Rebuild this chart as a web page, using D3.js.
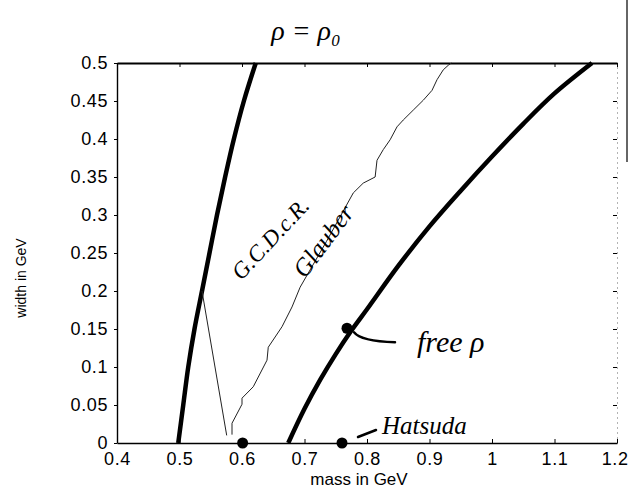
<!DOCTYPE html>
<meta charset="utf-8">
<style>
  body { margin: 0; background: #fff; }
  .axis text { font: 18px "Liberation Sans", Arial, sans-serif; letter-spacing: 0.6px; fill: #000; }
  .axis path, .axis line { stroke: #000; }
  .hand { font-family: "Liberation Serif", "DejaVu Serif", serif; font-style: italic; fill: #000; }
</style>
<svg width="629" height="492"></svg>
<script src="https://cdn.jsdelivr.net/npm/d3@7/dist/d3.min.js"></script>
<script>

  // ticks
  var xTicks = [0.4, 0.5, 0.6, 0.7, 0.8, 0.9, 1.0, 1.1, 1.2];
  var xTickLabels = ["0.4", "0.5", "0.6", "0.7", "0.8", "0.9", "1", "1.1", "1.2"];
  var yTicks = [0, 0.05, 0.1, 0.15, 0.2, 0.25, 0.3, 0.35, 0.4, 0.45, 0.5];
  var yTickLabels = ["0", "0.05", "0.1", "0.15", "0.2", "0.25", "0.3", "0.35", "0.4", "0.45", "0.5"];

  // left thick curve
  var leftMass  = [0.498, 0.506, 0.514, 0.524, 0.536, 0.548, 0.56, 0.573, 0.587, 0.603, 0.622];
  var leftWidth = [0, 0.05, 0.1, 0.15, 0.2, 0.25, 0.3, 0.35, 0.4, 0.45, 0.5];

  // thin straight drop
  var dropMass  = [0.536, 0.5755];
  var dropWidth = [0.2, 0.01];

  // thin wiggly (Glauber) curve
  var glauberMass  = [0.584, 0.584, 0.6, 0.6, 0.618, 0.64, 0.642, 0.664, 0.68, 0.693, 0.735, 0.778,
                      0.794, 0.813, 0.816, 0.826, 0.837, 0.848, 0.858, 0.874, 0.89, 0.904, 0.912, 0.922, 0.93, 0.935];
  var glauberWidth = [0.011, 0.026, 0.051, 0.059, 0.074, 0.109, 0.126, 0.153, 0.179, 0.205, 0.265, 0.329,
                      0.342, 0.35, 0.372, 0.386, 0.399, 0.416, 0.425, 0.438, 0.451, 0.464, 0.478, 0.491, 0.497, 0.5];

  // free rho thick curve
  var freeMass  = [0.674, 0.7, 0.725, 0.75, 0.775, 0.8, 0.85, 0.9, 0.95, 1.0, 1.05, 1.1, 1.16];
  var freeWidth = [0, 0.045, 0.083, 0.117, 0.148, 0.176, 0.233, 0.285, 0.332, 0.377, 0.42, 0.46, 0.5];

  // marked points
  var dotMass  = [0.601, 0.76, 0.768];
  var dotWidth = [0, 0, 0.151];

  var svg = d3.select("svg");

  var x = d3.scaleLinear().domain([0.4, 1.2]).range([117, 617]);
  var y = d3.scaleLinear().domain([0, 0.5]).range([443, 63]);

  function pts(ms, ws) {
    return ms.map(function(m, i) { return [m, ws[i]]; });
  }

  var line = d3.line()
      .x(function(d) { return x(d[0]); })
      .y(function(d) { return y(d[1]); });

  var smooth = d3.line()
      .curve(d3.curveCatmullRom)
      .x(function(d) { return x(d[0]); })
      .y(function(d) { return y(d[1]); });

  // axes
  svg.append("g")
      .attr("class", "axis")
      .attr("transform", "translate(0," + y(0) + ")")
      .call(d3.axisBottom(x).tickValues(xTicks)
          .tickFormat(function(d, i) { return xTickLabels[i]; })
          .tickSizeInner(-4).tickSizeOuter(0).tickPadding(9))
      .call(function(g) {
        g.select(".domain").attr("stroke-width", 1.6);
        // last label sits against the page edge
        g.selectAll(".tick text").filter(function(d) { return d === 1.2; })
            .attr("text-anchor", "end").attr("dx", 11);
      });

  svg.append("g")
      .attr("class", "axis")
      .attr("transform", "translate(" + x(0.4) + ",0)")
      .call(d3.axisLeft(y).tickValues(yTicks)
          .tickFormat(function(d, i) { return yTickLabels[i]; })
          .tickSizeInner(3).tickSizeOuter(0).tickPadding(6))
      .call(function(g) { g.select(".domain").attr("stroke-width", 1.4); });

  // top frame
  svg.append("g")
      .attr("class", "axis")
      .attr("transform", "translate(0," + y(0.5) + ")")
      .call(d3.axisTop(x).tickValues(xTicks).tickFormat("")
          .tickSizeInner(-4).tickSizeOuter(0))
      .call(function(g) { g.select(".domain").attr("stroke-width", 2); });

  // right side: only faint tick marks
  svg.append("g")
      .attr("class", "axis")
      .attr("transform", "translate(" + x(1.2) + ",0)")
      .call(d3.axisRight(y).tickValues(yTicks).tickFormat("")
          .tickSizeInner(-4).tickSizeOuter(0))
      .call(function(g) {
        g.select(".domain").attr("stroke", "#999").attr("stroke-width", 0.6).attr("stroke-dasharray", "1,4");
      });

  // curves
  svg.append("path")
      .datum(pts(leftMass, leftWidth))
      .attr("d", smooth)
      .attr("fill", "none").attr("stroke", "#000")
      .attr("stroke-width", 4.5).attr("stroke-linejoin", "round");

  svg.append("path")
      .datum(pts(dropMass, dropWidth))
      .attr("d", line)
      .attr("fill", "none").attr("stroke", "#222").attr("stroke-width", 1);

  svg.append("path")
      .datum(pts(glauberMass, glauberWidth))
      .attr("d", line)
      .attr("fill", "none").attr("stroke", "#222").attr("stroke-width", 1);

  svg.append("path")
      .datum(pts(freeMass, freeWidth))
      .attr("d", smooth)
      .attr("fill", "none").attr("stroke", "#000")
      .attr("stroke-width", 4.5).attr("stroke-linejoin", "round");

  svg.selectAll(".dot")
      .data(pts(dotMass, dotWidth))
      .enter().append("circle")
      .attr("class", "dot")
      .attr("cx", function(d) { return x(d[0]); })
      .attr("cy", function(d) { return y(d[1]); })
      .attr("r", 5.5)
      .attr("fill", "#000");

  // axis titles
  svg.append("text")
      .attr("x", 359).attr("y", 485)
      .attr("text-anchor", "middle")
      .style("font", "17px 'Liberation Sans', Arial, sans-serif")
      .text("mass in GeV");

  svg.append("text")
      .attr("transform", "translate(26,278) rotate(-90)")
      .attr("text-anchor", "middle")
      .style("font", "14px 'Liberation Sans', Arial, sans-serif")
      .text("width in GeV");

  // handwritten notes
  svg.append("text")
      .attr("class", "hand")
      .attr("x", 306).attr("y", 40)
      .attr("text-anchor", "middle")
      .style("font-size", "28px")
      .text("ρ = ρ₀");

  svg.append("text")
      .attr("class", "hand")
      .attr("transform", "translate(276,244) rotate(-47)")
      .attr("text-anchor", "middle")
      .style("font-size", "23px")
      .text("G.C.D.c.R.");

  svg.append("text")
      .attr("class", "hand")
      .attr("transform", "translate(330,246) rotate(-53)")
      .attr("text-anchor", "middle")
      .style("font-size", "25px")
      .text("Glauber");

  svg.append("text")
      .attr("class", "hand")
      .attr("x", 417).attr("y", 352)
      .style("font-size", "30px")
      .text("free ρ");

  svg.append("path")
      .attr("d", "M" + (x(0.768) + 7) + "," + (y(0.151) + 4) + " Q" + (x(0.768) + 14) + "," + (y(0.151) + 13) + " " + (x(0.768) + 48) + "," + (y(0.151) + 14))
      .attr("fill", "none").attr("stroke", "#000").attr("stroke-width", 2.5)
      .attr("stroke-linecap", "round");

  svg.append("path")
      .attr("d", "M" + (x(0.76) + 16) + "," + (y(0) - 6) + " L" + (x(0.76) + 34) + "," + (y(0) - 13))
      .attr("fill", "none").attr("stroke", "#000").attr("stroke-width", 2.5)
      .attr("stroke-linecap", "round");

  svg.append("text")
      .attr("class", "hand")
      .attr("x", 382).attr("y", 434)
      .style("font-size", "25px")
      .text("Hatsuda");

  // scan edge at far right
  svg.append("line")
      .attr("x1", 627).attr("x2", 627).attr("y1", 0).attr("y2", 162)
      .attr("stroke", "#333").attr("stroke-width", 1.5);

</script>
